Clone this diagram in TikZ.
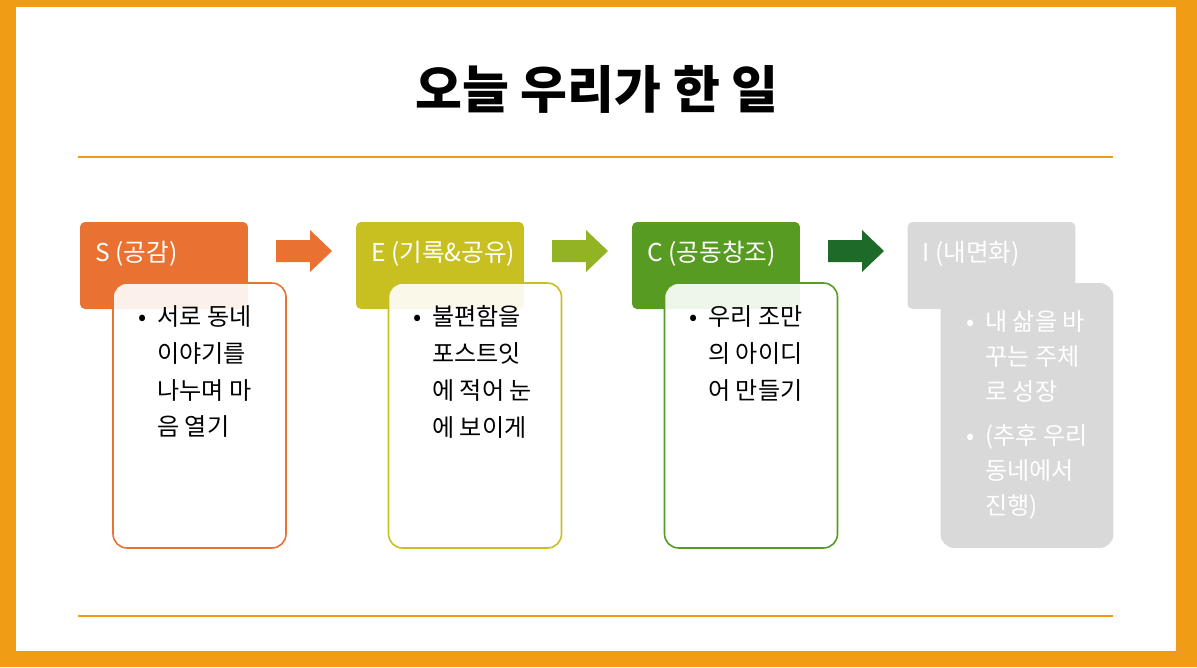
\documentclass[tikz,border=0pt]{standalone}
\usepackage{fontspec}
\setmainfont{Noto Sans CJK KR}
\usepackage{tikz}
\usetikzlibrary{backgrounds}
\definecolor{frameorange}{RGB}{240,156,20}
\definecolor{colS}{RGB}{233,113,50}
\definecolor{colE}{RGB}{200,192,33}
\definecolor{arrE}{RGB}{146,180,36}
\definecolor{colC}{RGB}{88,155,34}
\definecolor{arrC}{RGB}{30,106,40}
\definecolor{colI}{RGB}{217,217,217}
\newcommand{\bul}{\makebox[0pt][r]{\textbullet\hspace{0.22cm}}}

\begin{document}
\begin{tikzpicture}[x=0.02cm,y=-0.02cm]
        %
        % `header' is the coloured tab, `card' the rounded box below it.
        % `bodytext' is used for the bullet text in the cards.
        \tikzstyle{header} = [rectangle,rounded corners=0.1cm,minimum width=3.36cm,minimum height=1.74cm,inner sep=0pt]
        \tikzstyle{card} = [rectangle,rounded corners=0.28cm,minimum width=3.46cm,minimum height=5.3cm,inner sep=0pt,line width=0.9pt]
        \tikzstyle{headtext} = [anchor=base west,inner sep=0pt,text=white,font=\fontsize{14}{18}\selectfont]
        \tikzstyle{bodytext} = [anchor=north west,inner sep=0pt,align=left,font=\fontsize{13.7}{21}\selectfont]
        %
        \useasboundingbox (0,0) rectangle (1197,667);
        % Frame
        \fill[frameorange] (0,0) rectangle (1197,667);
        \fill[white] (16,7) rectangle (1176,651);
        %
        % Title
        \node[font=\bfseries\fontsize{29}{34}\selectfont] (title) at (597,89) {오늘 우리가 한 일};
        \node (topl) at (78,157) {};
        \node (topr) at (1113,157) {};
        \node (botl) at (78,616) {};
        \node (botr) at (1113,616) {};
        \draw[frameorange,line width=1.2pt] (topl.center) -- (topr.center);
        \draw[frameorange,line width=1.2pt] (botl.center) -- (botr.center);
        %
        % Column S
        \node[header,fill=colS] (hS) at (164,265.5) {};
        \node[headtext] (tS) at (95,261) {S (공감)};
        \node[card,draw=colS,fill=white,fill opacity=0.9] (bS) at (199.5,415.5) {};
        \node[bodytext] (xS) at (157,305) {\bul 서로 동네\\이야기를\\나누며 마\\음 열기};
        %
        % Column E
        \node[header,fill=colE] (hE) at (440,265.5) {};
        \node[headtext] (tE) at (371,261) {E (기록\&공유)};
        \node[card,draw=colE,fill=white,fill opacity=0.9] (bE) at (475,415.5) {};
        \node[bodytext] (xE) at (432,305) {\bul 불편함을\\포스트잇\\에 적어 눈\\에 보이게};
        %
        % Column C
        \node[header,fill=colC] (hC) at (716,265.5) {};
        \node[headtext] (tC) at (647,261) {C (공동창조)};
        \node[card,draw=colC,fill=white,fill opacity=0.9] (bC) at (751,415.5) {};
        \node[bodytext] (xC) at (708,305) {\bul 우리 조만\\의 아이디\\어 만들기};
        %
        % Column I
        \node[header,fill=colI] (hI) at (991.5,265.5) {};
        \node[headtext] (tI) at (922,261) {I (내면화)};
        \node[card,fill=colI] (bI) at (1027,415.5) {};
        \node[bodytext,text=white,font=\fontsize{13.7}{20}\selectfont] (xI) at (985,310) {\bul 내 삶을 바\\꾸는 주체\\로 성장\\[5pt]\bul (추후 우리\\동네에서\\진행)};
        %
        % Arrows
        \foreach \x/\c in {276/colS,552/arrE,828/arrC}
          \fill[\c] (\x,240) -- ++(34,0) -- ++(0,-10) -- ++(22,21) -- ++(-22,21) -- ++(0,-10) -- ++(-34,0) -- cycle;
        %
        \end{tikzpicture}
\end{document}
